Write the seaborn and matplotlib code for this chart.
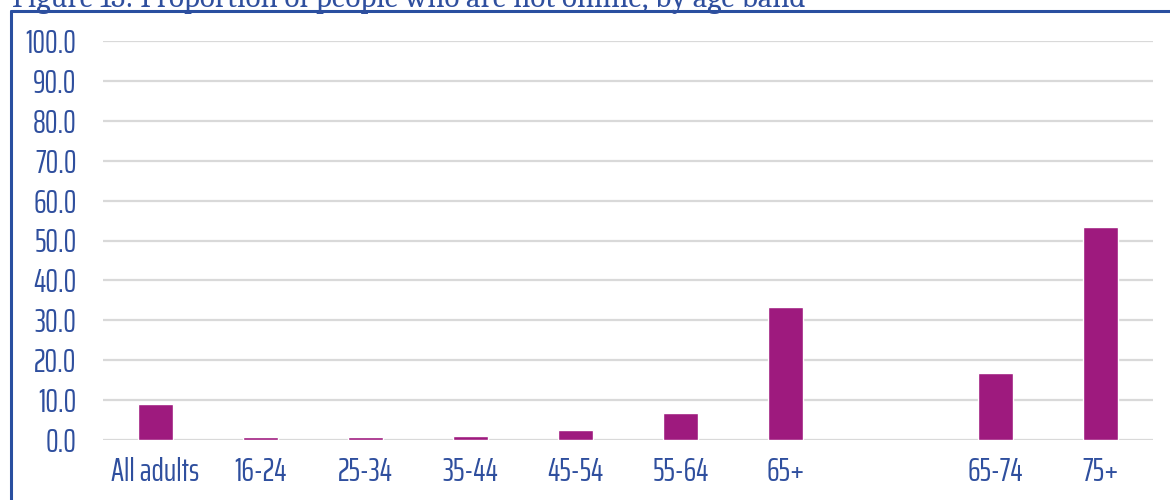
import matplotlib
matplotlib.use("Agg")
import matplotlib.pyplot as plt
from matplotlib.lines import Line2D
import seaborn as sns
import pandas as pd
import numpy as np

# Share of adults not online, by age band (%); the blank slot separates the 65+ split
categories = ["All adults", "16-24", "25-34", "35-44", "45-54", "55-64", "65+", " ", "65-74", "75+"]
values = [9.0, 0.7, 0.7, 1.0, 2.5, 6.7, 33.3, np.nan, 16.7, 53.3]
yticks = [0, 10, 20, 30, 40, 50, 60, 70, 80, 90, 100]

title = "Figure 13: Proportion of people who are not online, by age band"

bar_color = "#9E1A7E"
text_blue = "#2F4F9E"
frame_blue = "#2A4FA0"
grid_grey = "#D9D9D9"

df = pd.DataFrame({"band": categories, "pct": values})

sns.set_theme(style="white")
plt.rcParams["font.family"] = ["Saira ExtraCondensed", "DejaVu Sans"]

fig = plt.figure(figsize=(11.7, 5.0), dpi=100)
ax = fig.add_axes([103 / 1170, 60 / 500, 1050 / 1170, 399 / 500])
ax.set_axisbelow(True)

sns.barplot(data=df, x="band", y="pct", order=categories, color=bar_color,
            width=0.333, saturation=1, ax=ax)

ax.set_xlim(-0.5, len(categories) - 0.5)
ax.set_ylim(0, 100)
ax.set_yticks(yticks)
ax.set_yticklabels([f"{v:.1f}" for v in yticks])
ax.set_xlabel("")
ax.set_ylabel("")

ax.yaxis.grid(True, color=grid_grey, linewidth=1.6)
ax.xaxis.grid(False)
for s in ax.spines.values():
    s.set_visible(False)
ax.tick_params(axis="both", length=0, labelcolor=text_blue, labelsize=23)
ax.tick_params(axis="y", pad=19)
ax.tick_params(axis="x", pad=12)

# Outer frame: top and left edges only
fig.add_artist(Line2D([11 / 1170, 1.0], [1 - 11 / 500, 1 - 11 / 500],
                      transform=fig.transFigure, color=frame_blue, linewidth=2.2))
fig.add_artist(Line2D([11 / 1170, 11 / 1170], [0.0, 1 - 11 / 500],
                      transform=fig.transFigure, color=frame_blue, linewidth=2.2))

# Heading sits above the frame, its top running off the image edge
t = fig.text(12 / 1170, 1 - 7 / 500, title, family=["Caladea", "Liberation Serif", "DejaVu Serif"],
             fontsize=18, color=text_blue, ha="left", va="baseline")
fig.canvas.draw()
w = t.get_window_extent().width
t.set_fontsize(18 * 796 / w)

fig.savefig("out.png", dpi=100)
